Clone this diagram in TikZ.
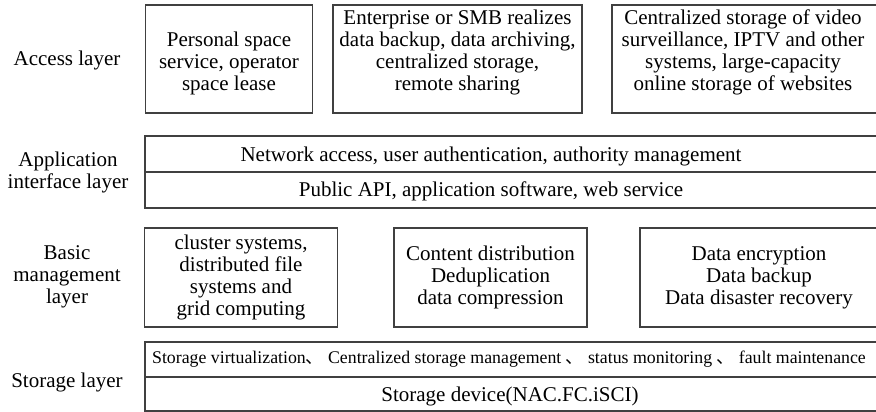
\documentclass[tikz,border=0pt]{standalone}
\usepackage{fontspec}
\setmainfont{Liberation Serif}
\newfontfamily\cjkfont{Noto Sans CJK SC}
\newcommand{\dun}{{\cjkfont 、}}
\begin{document}
\begin{tikzpicture}[x=1pt,y=-1pt,
  box/.style={draw=black!75, line width=1.2pt, inner sep=0pt, align=center,
    font=\fontsize{21}{22}\selectfont},
  lbl/.style={inner sep=0pt, align=center, font=\fontsize{21}{22}\selectfont},
  small/.style={font=\fontsize{17.8}{20}\selectfont}]
\useasboundingbox (0,0) rectangle (876,412);
% access layer
\node[lbl] (acc) at (67,60) {Access layer};
\node[box, minimum width=167pt, minimum height=108pt] (p1) at (229,59) {};
\node[lbl] (p1t) at (229,63) {Personal space\\service, operator\\space lease};
\node[box, minimum width=249pt, minimum height=108pt] (p2) at (457.5,59) {};
\node[lbl] (p2t) at (457.5,52) {Enterprise or SMB realizes\\data backup, data archiving,\\centralized storage,\\remote sharing};
\node[box, minimum width=266pt, minimum height=108pt] (p3) at (745,59) {};
\node[lbl] (p3t) at (743,52) {Centralized storage of video\\surveillance, IPTV and other\\systems, large-capacity\\online storage of websites};
% application interface layer
\node[lbl] (app) at (68,172) {Application\\interface layer};
\node[box, minimum width=733pt, minimum height=36pt] (net) at (511.5,154) {};
\node[lbl] (nett) at (491,156) {Network access, user authentication, authority management};
\node[box, minimum width=733pt, minimum height=36pt] (api) at (511.5,190) {};
\node[lbl] (apit) at (491,191) {Public API, application software, web service};
% basic management layer
\node[lbl] (bas) at (67,277) {Basic\\management\\layer};
\node[box, minimum width=193pt, minimum height=99pt] (b1) at (241,277.5)
  {cluster systems,\\distributed file\\systems and\\grid computing};
\node[box, minimum width=193pt, minimum height=99pt] (b2) at (490.5,277.5)
  {Content distribution\\Deduplication\\data compression};
\node[box, minimum width=238pt, minimum height=99pt] (b3) at (759,277.5)
  {Data encryption\\Data backup\\Data disaster recovery};
% storage layer
\node[lbl] (sto) at (67,382) {Storage layer};
\node[box, minimum width=733pt, minimum height=35pt] (s1) at (511.5,359.5) {};
\node[lbl, small] (s1t) at (509,359.5)
  {Storage virtualization\dun\ Centralized storage management \dun\ status monitoring \dun\ fault maintenance};
\node[box, minimum width=733pt, minimum height=34pt] (s2) at (511.5,394) {};
\node[lbl] (s2t) at (510,396) {Storage device(NAC.FC.iSCI)};
\end{tikzpicture}
\end{document}
